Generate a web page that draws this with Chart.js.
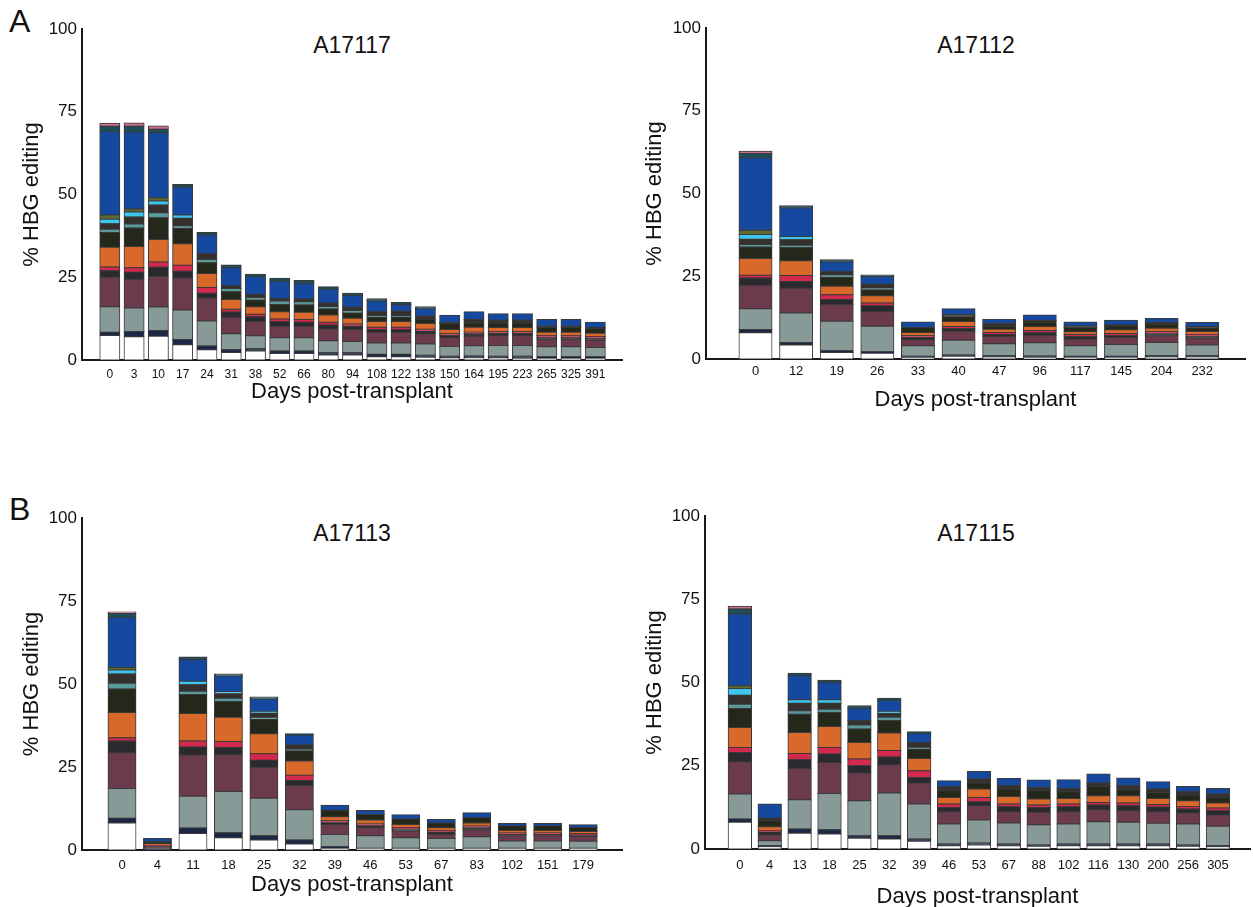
<!DOCTYPE html>
<html>
<head>
<meta charset="utf-8">
<script src="https://cdn.jsdelivr.net/npm/chart.js@4.4.1/dist/chart.umd.min.js"></script>
<style>
  html, body { margin: 0; padding: 0; background: #fff; width: 1253px; height: 907px; overflow: hidden; }
  body { position: relative; font-family: "Liberation Sans", Arial, sans-serif; color: #111; }
  canvas { position: absolute; }
  .lbl { position: absolute; line-height: 1; white-space: nowrap; }
  .letter { font-size: 32px; }
  .ptitle { font-size: 23px; transform: translateX(-50%); }
</style>
</head>
<body>
<div class="lbl letter" style="left:9px;top:5px">A</div>
<div class="lbl letter" style="left:9px;top:493px">B</div>
<div class="lbl ptitle" style="left:352px;top:34px">A17117</div>
<div class="lbl ptitle" style="left:976px;top:34px">A17112</div>
<div class="lbl ptitle" style="left:352px;top:522px">A17113</div>
<div class="lbl ptitle" style="left:976px;top:522px">A17115</div>

<canvas id="c-a17117" width="630" height="420" style="left:0;top:0"></canvas>
<canvas id="c-a17112" width="623" height="420" style="left:630px;top:0"></canvas>
<canvas id="c-a17113" width="630" height="447" style="left:0;top:460px"></canvas>
<canvas id="c-a17115" width="623" height="460" style="left:630px;top:460px"></canvas>

<script>
// ------------------------------------------------------------
// Stack segments, bottom of the bar first
// ------------------------------------------------------------
const SEGMENTS = ['white', 'navy', 'grey', 'maroon', 'dark', 'red', 'orange', 'darkgreen',
                  'teal', 'dark2', 'cyan', 'olive', 'blue', 'darkteal', 'pink'];
const SEGMENT_COLORS = ['#ffffff', '#1c2746', '#879a98', '#6b3a4c', '#2a2a2e', '#d3294e', '#d9692a', '#23281a',
                        '#5b9a9c', '#34302e', '#3fc6ef', '#5e6a32', '#1549a0', '#1d4d57', '#c76f8b'];

// ------------------------------------------------------------
// Days post-transplant, and % HBG editing per segment (one row per bar,
// columns in SEGMENTS order)
// ------------------------------------------------------------
const DAYS_A17117 = ['0','3','10','17','24','31','38','52','66','80','94','108','122','138','150','164','195','223','265','325','391'];
const BARS_A17117 = [
  [7.4,1.0,7.7,8.9,2.0,1.1,6.0,4.4,1.0,1.7,1.3,1.3,25.2,1.6,0.9],
  [7.0,1.6,7.1,8.7,2.1,1.4,6.4,5.6,1.2,2.1,1.5,0.9,23.3,1.7,1.0],
  [7.2,1.7,7.1,9.2,2.8,1.6,6.8,6.6,1.5,2.3,1.2,1.0,19.6,1.1,1.0],
  [4.6,1.6,8.9,9.7,2.0,1.8,6.5,4.7,0.7,2.3,1.0,0,8.4,0.8,0],
  [3.1,1.1,7.6,6.9,1.5,1.7,4.2,3.3,1.0,1.7,0,0,5.7,0.7,0],
  [2.3,0.8,4.8,5.0,1.6,0.8,3.0,2.3,1.0,0.8,0,0,5.5,0.8,0],
  [2.7,0.7,3.9,4.3,1.5,0.7,2.3,2.0,0.7,1.0,0,0,5.4,0.7,0],
  [2.0,0.7,4.0,3.5,1.4,0.8,2.2,2.2,1.0,0.8,0,0,5.1,1.0,0],
  [2.0,0.7,4.0,3.5,1.2,0.8,2.2,2.2,1.0,0.8,0,0,4.6,1.0,0],
  [1.5,0.7,3.6,3.6,1.2,0.8,2.2,1.8,0.8,1.0,0,0,4.1,0.8,0],
  [1.5,0.7,3.4,3.6,1.0,0.7,1.7,1.6,0.7,1.0,0,0,3.6,0.7,0],
  [1.0,0.7,3.4,3.3,0.8,0.7,1.7,1.3,0.5,1.2,0,0,3.2,0.7,0],
  [1.0,0.7,3.4,3.3,0.8,0.7,1.7,1.4,0.3,1.4,0,0,2.0,0.7,0],
  [0.8,0.6,3.4,3.1,0.8,0.6,1.7,1.3,0,1.0,0,0,2.2,0.6,0],
  [0.6,0.5,3.0,2.6,0.7,0.5,1.3,1.8,0,0.3,0,0,2.2,0,0],
  [0.7,0.5,3.1,2.9,0.7,0.5,1.5,1.3,0,1.0,0,0,2.4,0,0],
  [0.6,0.5,3.3,2.9,0.7,0.5,1.3,1.4,0,0.8,0,0,2.0,0,0],
  [0.5,0.6,3.3,2.9,0.7,0.5,1.3,1.4,0,0.8,0,0,2.0,0,0],
  [0.5,0.5,3.0,2.3,0.6,0.5,1.0,1.5,0,0.3,0,0,2.0,0,0],
  [0.5,0.5,3.0,2.3,0.6,0.5,1.0,1.5,0,0.3,0,0,2.0,0,0],
  [0.5,0.5,2.8,2.2,0.6,0.5,1.0,1.4,0,0.3,0,0,1.6,0,0],
];

const DAYS_A17112 = ['0','12','19','26','33','40','47','96','117','145','204','232'];
const BARS_A17112 = [
  [7.9,1.0,6.3,7.1,2.2,0.8,5.1,3.4,0.8,1.6,1.4,1.3,21.9,1.3,0.7],
  [4.2,0.8,8.9,7.5,2.0,1.8,4.5,4.0,0.7,1.6,1.0,0,8.6,0.7,0],
  [2.0,0.5,8.9,5.1,1.5,1.4,2.6,2.7,0.7,1.0,0,0,2.9,0.7,0],
  [1.7,0.5,7.7,4.4,1.8,0.8,2.2,1.8,0.5,1.2,0,0,2.3,0.5,0],
  [0.4,0.4,3.2,1.8,0.7,0.5,1.0,1.5,0,0,0,0,1.7,0,0],
  [0.8,0.4,4.5,2.7,0.8,0.6,1.5,1.5,0,0.6,0,0,1.8,0,0],
  [0.6,0.4,3.6,2.2,0.6,0.6,1.0,0.8,0,0.9,0,0,1.3,0,0],
  [0.5,0.4,4.0,2.2,0.8,0.7,1.2,1.3,0,0.5,0,0,1.7,0,0],
  [0.5,0.3,3.2,2.0,0.8,0.6,0.8,1.3,0,0.5,0,0,1.2,0,0],
  [0.5,0.3,3.6,2.1,0.6,0.6,1.1,1.1,0,0.4,0,0,1.4,0,0],
  [0.6,0.4,4.0,2.0,0.6,0.6,1.1,1.2,0,0.5,0,0,1.2,0,0],
  [0.6,0.4,3.2,2.1,0.6,0.5,0.9,1.1,0,0.4,0,0,1.2,0,0],
];

const DAYS_A17113 = ['0','4','11','18','25','32','39','46','53','67','83','102','151','179'];
const BARS_A17113 = [
  [8.1,1.5,8.9,10.8,3.5,1.0,7.6,7.1,1.7,2.8,1.2,0.8,15.0,1.2,0.5],
  [0,0.1,0.3,0.4,0.4,0.2,0.3,0.8,0,0,0,0,1.0,0,0],
  [5.0,1.6,9.6,12.4,2.4,1.8,8.3,5.7,1.0,2.0,1.0,0,6.5,0.8,0],
  [3.7,1.5,12.4,11.1,2.2,1.8,7.3,4.7,1.0,1.4,0.6,0,4.7,0.6,0],
  [3.0,1.3,11.3,9.3,2.1,2.0,6.0,4.4,0.5,1.4,0.4,0,3.8,0.6,0],
  [1.8,1.2,9.1,7.3,1.5,1.6,4.3,3.1,0.4,1.3,0,0,3.0,0.4,0],
  [0.5,0.5,3.7,3.0,0.5,0.6,1.2,2.0,0,0,0,0,1.5,0,0],
  [0.5,0,3.8,2.5,0.5,0.5,1.2,1.7,0,0,0,0,1.2,0,0],
  [0.5,0,3.2,2.0,0.6,0.5,0.9,1.6,0,0,0,0,1.3,0,0],
  [0.5,0,3.0,1.2,0.7,0.5,0.8,1.4,0,0,0,0,1.1,0,0],
  [0.5,0,3.5,2.0,0.7,0.5,0.9,1.6,0,0,0,0,1.5,0,0],
  [0.5,0,2.2,1.6,0.4,0.4,0.8,1.3,0,0,0,0,0.8,0,0],
  [0.5,0,2.2,1.6,0.4,0.4,0.8,1.3,0,0,0,0,0.8,0,0],
  [0.5,0,2.1,1.5,0.4,0.4,0.7,1.2,0,0,0,0,0.8,0,0],
];

const DAYS_A17115 = ['0','4','13','18','25','32','39','46','53','67','88','102','116','130','200','256','305'];
const BARS_A17115 = [
  [8.0,1.0,7.5,9.7,2.8,1.5,6.0,5.7,1.3,2.7,2.0,0.8,21.6,1.5,0.8],
  [0.7,0.3,1.5,1.7,0.9,0.4,1.2,1.8,0,0.7,0,0,4.3,0,0],
  [4.7,1.3,8.8,9.4,2.6,1.9,6.3,5.5,1.0,2.3,1.0,0,7.2,0.8,0],
  [4.5,1.3,10.9,9.3,2.5,2.0,6.3,4.2,1.0,1.8,1.0,0,5.2,0.7,0],
  [3.2,0.8,10.5,8.3,2.2,2.0,5.0,4.0,1.2,1.3,0,0,3.8,0.7,0],
  [3.0,1.0,12.8,8.5,2.3,2.0,5.2,3.8,1.0,1.2,0.5,0,3.3,0.7,0],
  [2.3,0.7,10.5,6.3,1.7,2.0,3.7,2.8,0.5,1.5,0,0,2.7,0.5,0],
  [1.0,0.5,6.0,3.7,1.3,1.0,2.0,2.0,0,1.2,0,0,1.8,0,0],
  [1.2,0.6,6.9,4.3,1.2,1.3,2.5,1.8,0,1.2,0,0,2.3,0,0],
  [1.0,0.5,6.3,3.4,1.5,0.8,2.3,2.2,0,1.0,0,0,2.2,0,0],
  [0.8,0.4,6.1,3.7,1.5,0.7,1.8,2.5,0,1.0,0,0,2.2,0,0],
  [1.0,0.5,6.0,3.7,1.5,0.8,1.7,2.0,0,1.0,0,0,2.6,0,0],
  [1.0,0.5,6.7,3.6,1.4,0.8,2.0,2.8,0,1.0,0,0,2.7,0,0],
  [1.0,0.5,6.5,3.5,1.5,0.8,2.2,1.8,0,1.2,0,0,2.3,0,0],
  [1.0,0.5,6.2,3.5,1.4,0.8,1.8,1.8,0,1.0,0,0,2.2,0,0],
  [0.8,0.4,6.3,3.3,1.2,0.8,1.7,1.7,0,1.0,0,0,1.6,0,0],
  [0.7,0.3,5.8,3.4,1.3,0.8,1.5,1.7,0,1.0,0,0,1.7,0,0],
];

const Y_TICKS = [0, 25, 50, 75, 100];
const FONT = '"Liberation Sans", Arial, sans-serif';

// ------------------------------------------------------------
// One stacked bar panel
// ------------------------------------------------------------
function renderPanel(canvasId, days, bars, g) {
  const datasets = SEGMENTS.map((name, k) => ({
    label: name,
    data: bars.map((row, i) => ({ x: i, y: row[k] ? row[k] : null })),
    backgroundColor: SEGMENT_COLORS[k],
    borderColor: '#3a3a3a',
    borderWidth: 1,
    borderSkipped: false,
    inflateAmount: 0.5,   // overlap neighbours so no light seams show
    categoryPercentage: 1,
    barPercentage: g.barPct,
  }));

  return new Chart(document.getElementById(canvasId), {
    type: 'bar',
    data: { datasets },
    options: {
      responsive: false,
      animation: false,
      events: [],
      layout: { padding: { top: g.padTop, right: g.padRight, left: 0, bottom: 0 } },
      plugins: { legend: { display: false }, tooltip: { enabled: false } },
      scales: {
        x: {
          type: 'linear',
          stacked: true,
          min: g.xMin,
          max: g.xMax,
          grid: { display: false, drawTicks: false },
          border: { color: '#1a1a1a', width: 2 },
          afterBuildTicks: s => { s.ticks = days.map((d, i) => ({ value: i })); },
          afterFit: s => { s.height = g.xHeight; },
          ticks: {
            autoSkip: false, maxRotation: 0, minRotation: 0,
            padding: g.xTickPad, color: '#111',
            font: { size: g.xTickSize, family: FONT },
            callback: v => days[v],
          },
          title: {
            display: true, text: 'Days post-transplant', color: '#111',
            font: { size: 22, family: FONT },
            padding: { top: 0, bottom: g.xTitlePad },
          },
        },
        y: {
          stacked: true,
          min: 0,
          max: 100,
          grid: { display: false, drawTicks: false },
          border: { color: '#1a1a1a', width: 2 },
          afterBuildTicks: s => { s.ticks = Y_TICKS.map(v => ({ value: v })); },
          afterFit: s => { s.width = g.yWidth; },
          ticks: { padding: 5, color: '#111', font: { size: 17, family: FONT } },
          title: {
            display: true, text: '% HBG editing', color: '#111',
            font: { size: 22, family: FONT },
            padding: { top: g.yTitlePad, bottom: 0 },
          },
        },
      },
    },
  });
}

renderPanel('c-a17117', DAYS_A17117, BARS_A17117, {
  padTop: 29, padRight: 8, yWidth: 82, xHeight: 60, xMin: -0.616, xMax: 20.57,
  barPct: 0.82, xTickSize: 12, xTickPad: 7, xTitlePad: 15, yTitlePad: 19,
});
renderPanel('c-a17112', DAYS_A17112, BARS_A17112, {
  padTop: 28, padRight: 8, yWidth: 76, xHeight: 61, xMin: -0.666, xMax: 11.5,
  barPct: 0.81, xTickSize: 13, xTickPad: 5, xTitlePad: 7, yTitlePad: 12,
});
renderPanel('c-a17113', DAYS_A17113, BARS_A17113, {
  padTop: 58, padRight: 8, yWidth: 82, xHeight: 57, xMin: -0.584, xMax: 13.55,
  barPct: 0.785, xTickSize: 13, xTickPad: 8, xTitlePad: 9, yTitlePad: 19,
});
renderPanel('c-a17115', DAYS_A17115, BARS_A17115, {
  padTop: 56, padRight: 3, yWidth: 75, xHeight: 71, xMin: -0.63, xMax: 16.535,
  barPct: 0.78, xTickSize: 13, xTickPad: 9, xTitlePad: 10, yTitlePad: 12,
});
</script>
</body>
</html>
